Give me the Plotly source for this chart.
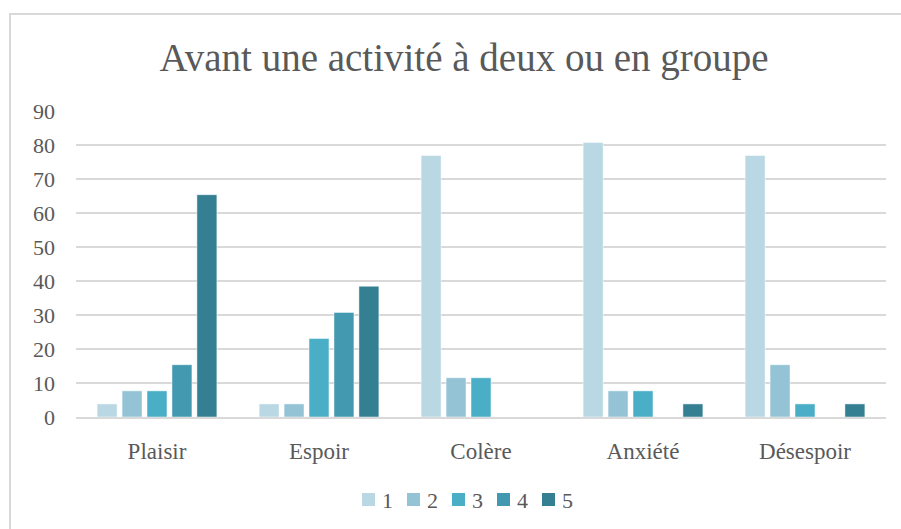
import plotly.graph_objects as go

# Share of respondents (%) for each rating level, per emotion
categories = ["Plaisir", "Espoir", "Colère", "Anxiété", "Désespoir"]
levels = ["1", "2", "3", "4", "5"]
level_1 = [3.85, 3.85, 76.92, 80.77, 76.92]
level_2 = [7.69, 3.85, 11.54, 7.69, 15.38]
level_3 = [7.69, 23.08, 11.54, 7.69, 3.85]
level_4 = [15.38, 30.77, 0, 0, 0]
level_5 = [65.38, 38.46, 0, 3.85, 3.85]
y_ticks = [0, 10, 20, 30, 40, 50, 60, 70, 80, 90]

series = [level_1, level_2, level_3, level_4, level_5]
colors = ["#B9D8E4", "#93C3D5", "#4AAEC7", "#4399B0", "#357F93"]

FONT = "Liberation Serif"
TEXT = "#595959"

W, H = 901, 529
ML, MR, MT, MB = 76, 15, 111, 112
PW, PH = W - ML - MR, H - MT - MB


def px_x(x):
    return (x - ML) / PW


def px_y(y):
    return (H - MB - y) / PH


fig = go.Figure()
for name, vals, col in zip(levels, series, colors):
    fig.add_trace(go.Bar(
        x=categories, y=vals, name=name, showlegend=False,
        marker=dict(color=col, line=dict(color="rgba(255,255,255,0.6)", width=0.8)),
    ))

# Compact legend row: swatch + label per level
shapes = [dict(type="rect", xref="paper", yref="paper",
               x0=px_x(10), x1=1.1, y0=-0.6, y1=px_y(14),
               line=dict(color="#D9D9D9", width=2), layer="below")]
annotations = []
x_start, step, sw = 362, 45, 13
for i, (name, col) in enumerate(zip(levels, colors)):
    x0 = x_start + i * step
    shapes.append(dict(type="rect", xref="paper", yref="paper",
                       x0=px_x(x0), x1=px_x(x0 + sw), y0=px_y(506), y1=px_y(493),
                       fillcolor=col, line=dict(width=0)))
    annotations.append(dict(text=name, xref="paper", yref="paper",
                            x=px_x(x0 + sw + 5), y=px_y(500), xanchor="left", yanchor="middle",
                            showarrow=False,
                            font=dict(family=FONT, size=22, color=TEXT)))

fig.update_layout(
    width=W, height=H,
    margin=dict(l=ML, r=MR, t=MT, b=MB),
    paper_bgcolor="white", plot_bgcolor="white",
    barmode="group", bargap=0.23, bargroupgap=0.2,
    title=dict(text="Avant une activité à deux ou en groupe",
               x=0.515, xanchor="center", y=1 - 57 / H, yanchor="middle",
               font=dict(family=FONT, size=39, color=TEXT)),
    font=dict(family=FONT, size=22, color=TEXT),
    showlegend=False,
    xaxis=dict(showgrid=False, showline=True, linecolor="#D9D9D9", linewidth=2,
               ticks="", ticklabelstandoff=12,
               tickfont=dict(family=FONT, size=23, color=TEXT)),
    yaxis=dict(range=[0, 90], tickvals=y_ticks, showgrid=True, gridcolor="#D9D9D9",
               gridwidth=1.5, zeroline=False, showline=False, ticks="",
               ticklabelstandoff=20,
               tickfont=dict(family=FONT, size=22, color=TEXT)),
    shapes=shapes,
    annotations=annotations,
)

fig.write_html("out.html")
